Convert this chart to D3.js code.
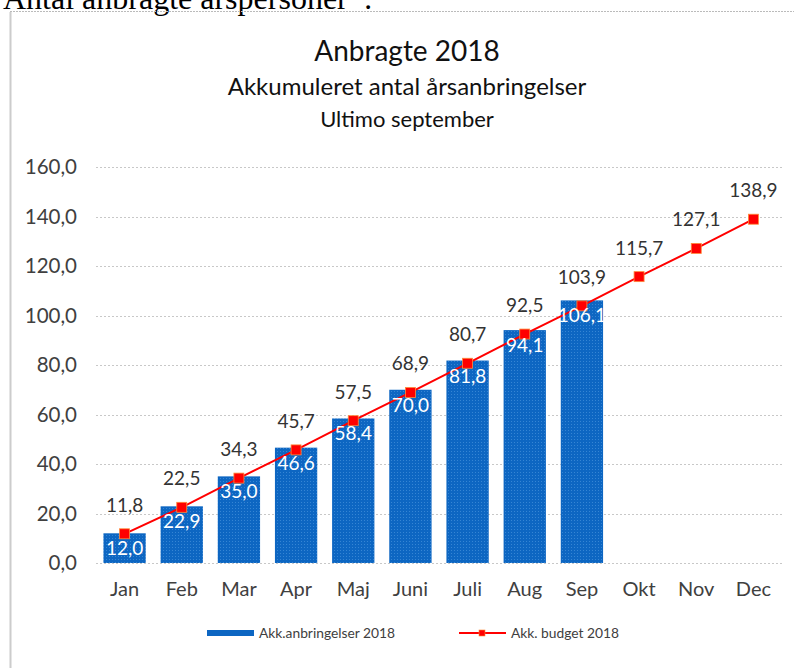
<!DOCTYPE html>
<html><head><meta charset="utf-8">
<script src="https://cdn.jsdelivr.net/npm/d3@7"></script>
<style>body{margin:0;background:#fff;}svg{display:block;}</style>
</head><body>
<svg id="c" width="794" height="668"></svg>
<script>
const months = ["Jan","Feb","Mar","Apr","Maj","Juni","Juli","Aug","Sep","Okt","Nov","Dec"];
const actual = [12.0,22.9,35.0,46.6,58.4,70.0,81.8,94.1,106.1];
const budget = [11.8,22.5,34.3,45.7,57.5,68.9,80.7,92.5,103.9,115.7,127.1,138.9];
const yTicks = [0,20,40,60,80,100,120,140,160];
const titles = ["Anbragte 2018","Akkumuleret antal årsanbringelser","Ultimo september"];
const legendLabels = ["Akk.anbringelser 2018","Akk. budget 2018"];

const svg = d3.select("#c");
const font = "Lato, 'Open Sans', sans-serif";
const fmt = v => v.toFixed(1).replace(".", ",");

// page heading (cut off at top)
svg.append("text").attr("x",3).attr("y",9).attr("font-family","'Liberation Serif', 'Times New Roman', serif")
  .attr("font-size",32).attr("fill","#000").text("Antal anbragte årspersoner*:");
svg.append("line").attr("x1",10).attr("x2",794).attr("y1",11.5).attr("y2",11.5)
  .attr("stroke","#bbb").attr("stroke-dasharray","2,1");
svg.append("line").attr("x1",10.5).attr("x2",10.5).attr("y1",12).attr("y2",668)
  .attr("stroke","#ccc").attr("stroke-width",2);

// titles
const tsz=[28,24,22], ty=[61,95,127];
titles.forEach((t,i)=>svg.append("text").attr("x",407).attr("y",ty[i]).attr("text-anchor","middle")
  .attr("font-family",font).attr("font-size",tsz[i]).attr("fill","#111").text(t));

const x = d3.scaleBand().domain(months).range([96,782]).paddingInner(0.26).paddingOuter(0.13);
const xc = d => x(d)+x.bandwidth()/2;
const y = d3.scaleLinear().domain([0,160]).range([563,167]);

// grid
svg.append("g").selectAll("line").data(yTicks).join("line")
  .attr("x1",96).attr("x2",782).attr("y1",d=>Math.round(y(d))+0.5).attr("y2",d=>Math.round(y(d))+0.5)
  .attr("stroke","#c8c8c8").attr("stroke-dasharray","2,2");

// y axis
const ya = svg.append("g").attr("transform","translate(96,0)")
  .call(d3.axisLeft(y).tickValues(yTicks).tickFormat(fmt).tickSize(0).tickPadding(19));
ya.select(".domain").remove();
ya.selectAll("text").attr("font-family",font).attr("font-size",20.5).attr("fill","#404040");

// x axis
const xa = svg.append("g").attr("transform","translate(0,563)")
  .call(d3.axisBottom(x).tickSize(0).tickPadding(19));
xa.select(".domain").remove();
xa.selectAll("text").attr("font-family",font).attr("font-size",20).attr("fill","#404040");

// pattern for bars
const defs = svg.append("defs");
const pat = defs.append("pattern").attr("id","dots").attr("width",3).attr("height",3).attr("patternUnits","userSpaceOnUse");
pat.append("rect").attr("width",3).attr("height",3).attr("fill","#0d66c2");
pat.append("rect").attr("x",1).attr("y",1).attr("width",1).attr("height",1).attr("fill","#3585d4");

// bars
svg.append("g").selectAll("rect").data(actual).join("rect")
  .attr("x",(d,i)=>x(months[i])).attr("y",d=>y(d)).attr("width",x.bandwidth()).attr("height",d=>y(0)-y(d))
  .attr("fill","url(#dots)");

// budget line
const line = d3.line().x((d,i)=>xc(months[i])).y(d=>y(d));
svg.append("path").datum(budget).attr("d",line).attr("fill","none").attr("stroke","#ff0000").attr("stroke-width",2);
svg.append("g").selectAll("rect").data(budget).join("rect")
  .attr("x",(d,i)=>xc(months[i])-5).attr("y",d=>y(d)-5).attr("width",10).attr("height",10)
  .attr("fill","#ff0000").attr("stroke","#ff8a3a").attr("stroke-width",0.8);

// bar labels
svg.append("g").selectAll("text").data(actual).join("text")
  .attr("x",(d,i)=>xc(months[i])).attr("y",d=>y(d)+22).attr("text-anchor","middle")
  .attr("font-family",font).attr("font-size",19).attr("fill","#fff").text(fmt);

// budget labels
svg.append("g").selectAll("text").data(budget).join("text")
  .attr("x",(d,i)=>xc(months[i])).attr("y",d=>y(d)-22).attr("text-anchor","middle")
  .attr("font-family",font).attr("font-size",19).attr("fill","#333").text(fmt);

// legend
const lg = svg.append("g");
lg.append("rect").attr("x",207).attr("y",630).attr("width",47).attr("height",6).attr("fill","#0d66c2");
lg.append("text").attr("x",259).attr("y",638).attr("font-family",font).attr("font-size",13.8).attr("fill","#404040").text(legendLabels[0]);
lg.append("line").attr("x1",459).attr("x2",506).attr("y1",633).attr("y2",633).attr("stroke","#ff0000").attr("stroke-width",2);
lg.append("rect").attr("x",479).attr("y",630).attr("width",6).attr("height",6).attr("fill","#ff0000").attr("stroke","#ff8a3a").attr("stroke-width",0.6);
lg.append("text").attr("x",511).attr("y",638).attr("font-family",font).attr("font-size",13.8).attr("fill","#404040").text(legendLabels[1]);
</script>
</body></html>
